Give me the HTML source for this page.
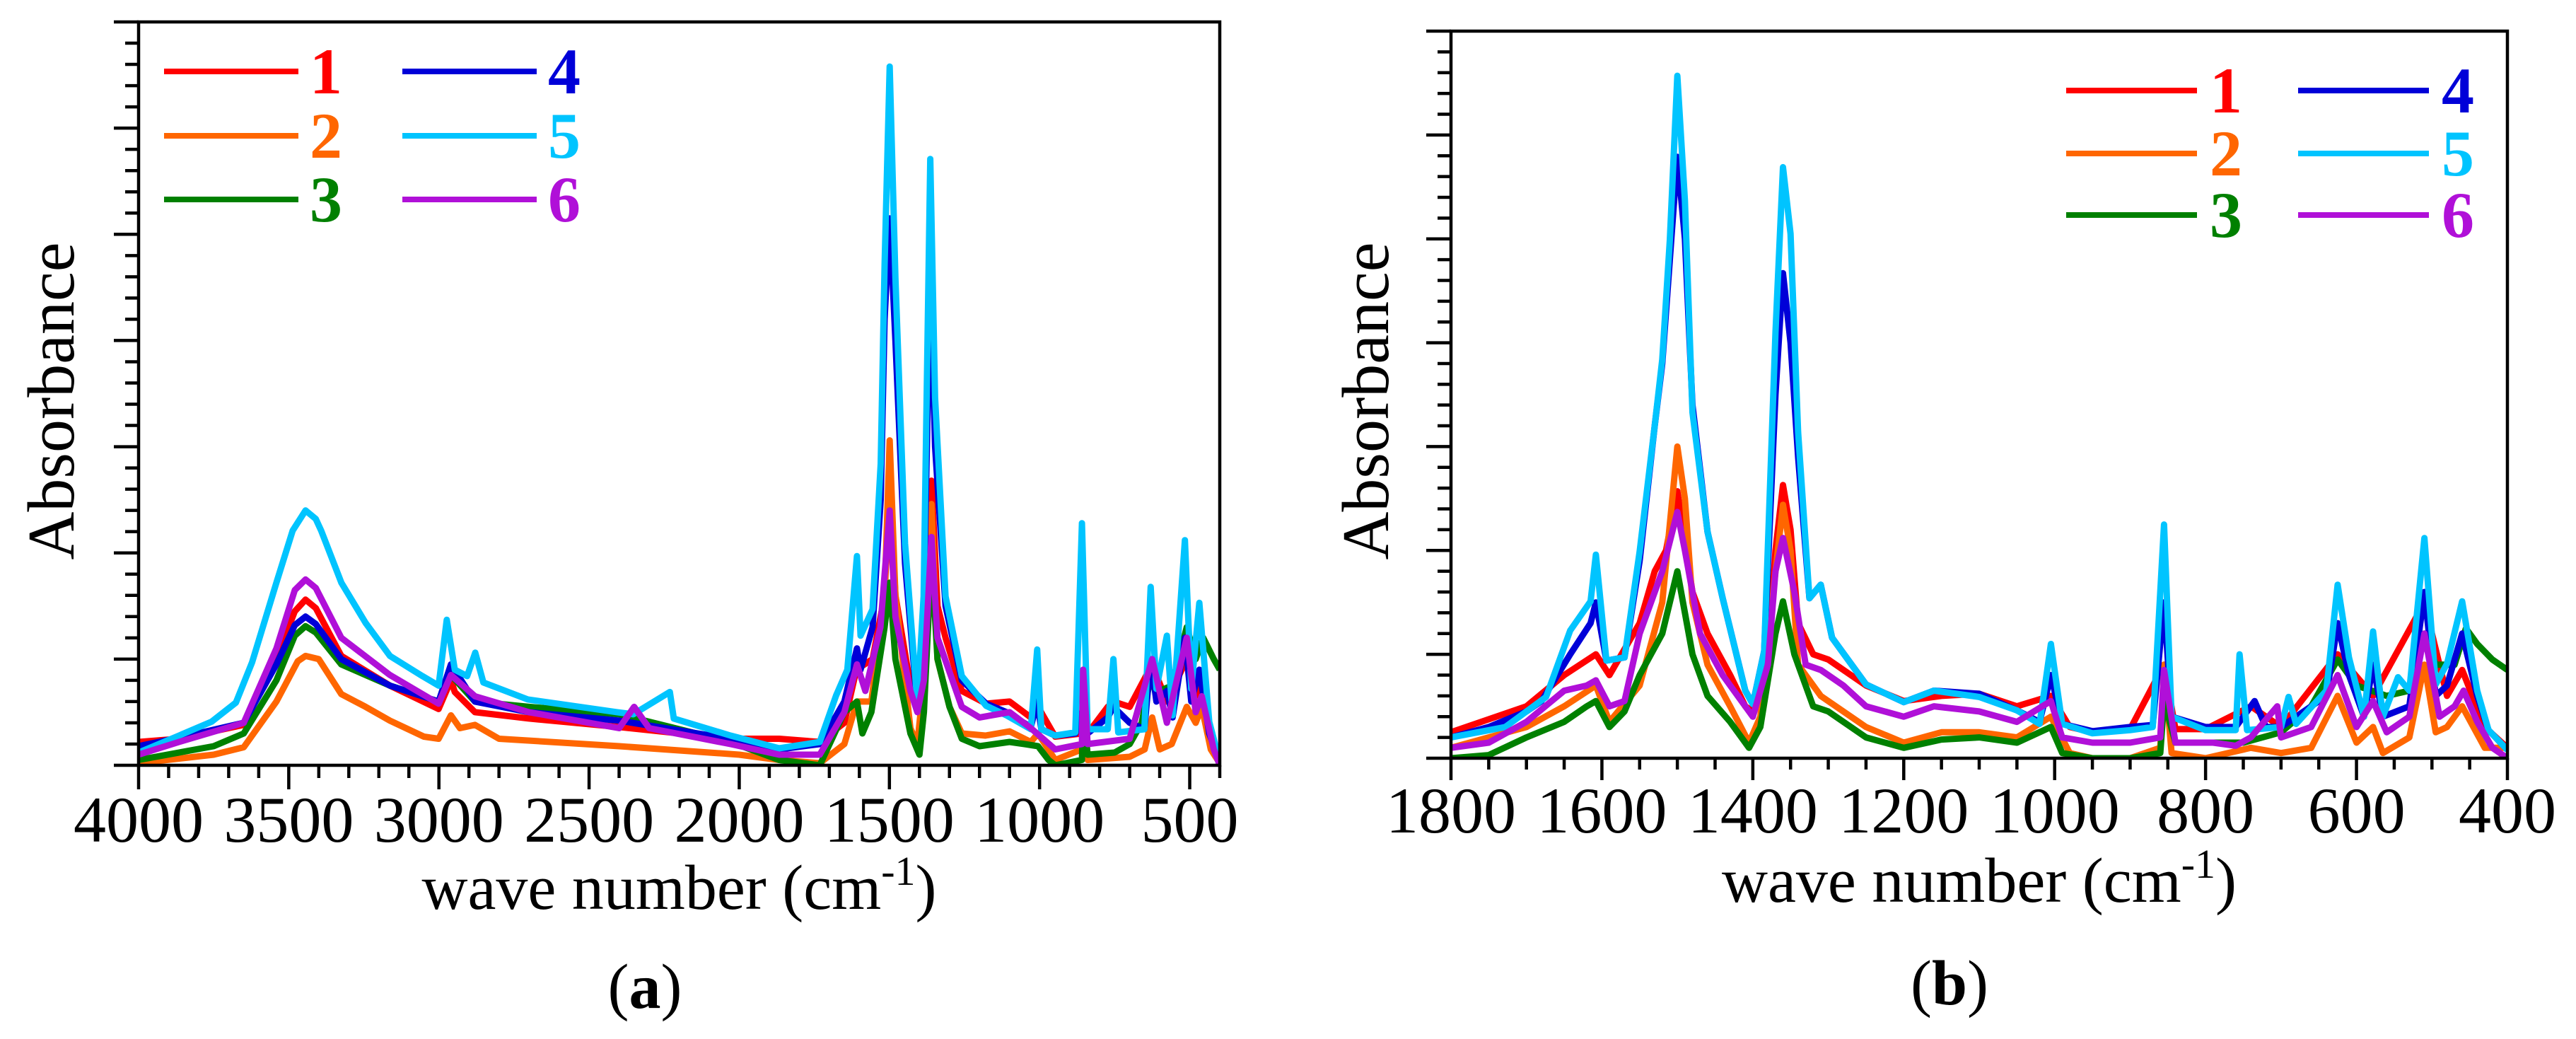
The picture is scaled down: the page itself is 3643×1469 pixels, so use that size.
<!DOCTYPE html>
<html><head><meta charset="utf-8"><style>
html,body{margin:0;padding:0;background:#fff;}
svg{display:block;}
text{font-family:"Liberation Serif",serif;}
</style></head><body>
<svg id="fig" width="3643" height="1469" viewBox="0 0 3643 1469" xmlns="http://www.w3.org/2000/svg">
<defs>
<clipPath id="clipA"><rect x="196" y="31" width="1529" height="1051"/></clipPath>
<clipPath id="clipB"><rect x="2052" y="44" width="1494" height="1028"/></clipPath>
</defs>
<g id="panelA"></g>
<g id="panelB"></g>
</svg>
<script>
const seriesColors = ["#ff0000","#ff6600","#008000","#0000d8","#00c4ff","#b010d8"];
const seriesLabels = ["1","2","3","4","5","6"];

const a1 = [[4000,.22],[3865,.25],[3650,.38],[3541,1.0],[3480,1.45],[3444,1.56],[3410,1.48],[3325,1.03],[3163,.75],[3001,.53],[2960,.8],[2947,.69],[2880,.5],[2700,.44],[2400,.36],[2029,.25],[1867,.25],[1732,.22],[1650,.4],[1610,.9],[1556,1.0],[1516,1.6],[1499,2.68],[1480,1.6],[1430,.75],[1407,.6],[1380,1.0],[1360,2.68],[1340,1.5],[1313,1.2],[1259,.7],[1178,.58],[1100,.6],[1029,.45],[1005,.55],[948,.27],[859,.3],[855,.9],[840,.3],[773,.55],[754,.6],[700,.55],[625,.95],[576,.6],[510,1.0],[460,.6],[420,.2],[400,.05]];
const a2 = [[4000,.02],[3750,.1],[3650,.17],[3541,.6],[3470,.98],[3444,1.03],[3400,1.0],[3325,.67],[3244,.55],[3163,.42],[3050,.27],[3001,.25],[2960,.47],[2930,.35],[2880,.38],[2800,.25],[2400,.18],[2000,.1],[1867,.05],[1732,.02],[1650,.2],[1608,.6],[1560,.6],[1516,1.6],[1499,3.06],[1480,1.6],[1430,.35],[1407,.2],[1385,.8],[1360,2.46],[1340,1.0],[1300,.55],[1259,.3],[1180,.28],[1100,.32],[1029,.22],[1005,.3],[948,.05],[859,.15],[855,.75],[840,.05],[700,.08],[650,.15],[625,.45],[600,.15],[560,.2],[510,.55],[480,.4],[460,.55],[430,.15],[400,.02]];
const a3 = [[4000,.05],[3750,.18],[3650,.3],[3541,.8],[3480,1.22],[3444,1.31],[3410,1.25],[3325,.95],[3163,.75],[3001,.6],[2960,.85],[2880,.6],[2700,.55],[2400,.48],[2029,.22],[1867,.05],[1732,0],[1650,.5],[1608,.6],[1590,.3],[1560,.5],[1516,1.3],[1499,1.72],[1480,1.0],[1430,.3],[1400,.1],[1385,.5],[1360,1.97],[1340,1.0],[1300,.55],[1259,.25],[1200,.18],[1100,.22],[1050,.2],[1005,.18],[970,.05],[948,0],[859,.05],[855,.55],[840,.1],[750,.12],[700,.2],[660,.4],[625,.9],[600,.7],[560,.75],[510,1.3],[480,1.0],[455,1.2],[420,1.0],[400,.9]];
const a4 = [[4000,.18],[3865,.26],[3650,.4],[3541,.95],[3480,1.32],[3444,1.40],[3410,1.33],[3325,1.0],[3163,.75],[3001,.6],[2960,.95],[2880,.6],[2700,.5],[2400,.42],[2029,.25],[1867,.15],[1732,.2],[1650,.6],[1608,1.1],[1596,.9],[1556,1.3],[1529,2.5],[1516,4.2],[1499,5.15],[1480,4.0],[1448,1.9],[1407,.56],[1386,1.4],[1364,4.7],[1348,3.0],[1313,1.5],[1259,.8],[1178,.58],[1110,.5],[1029,.36],[1008,.6],[994,.34],[948,.28],[881,.3],[859,.5],[840,.3],[773,.45],[754,.55],[700,.4],[651,.34],[630,1.0],[611,.6],[576,.7],[557,.45],[516,1.2],[495,.6],[468,.9],[435,.3],[400,.03]];
const a5 = [[4000,.12],[3865,.28],[3757,.41],[3676,.59],[3622,.97],[3541,1.72],[3487,2.21],[3444,2.40],[3410,2.32],[3392,2.21],[3325,1.72],[3244,1.34],[3163,1.03],[3055,.84],[3001,.75],[2974,1.37],[2947,.90],[2906,.84],[2879,1.06],[2852,.78],[2704,.62],[2407,.50],[2353,.48],[2231,.69],[2218,.44],[2029,.28],[1867,.16],[1732,.22],[1677,.66],[1640,.9],[1608,1.97],[1596,1.22],[1556,1.47],[1529,2.84],[1516,4.71],[1499,6.58],[1480,4.59],[1448,2.09],[1407,.59],[1386,1.59],[1364,5.71],[1348,3.46],[1313,1.59],[1259,.84],[1178,.56],[1110,.47],[1029,.34],[1008,1.09],[994,.34],[948,.28],[881,.31],[859,2.28],[840,.34],[773,.34],[754,1.0],[738,.31],[651,.34],[630,1.68],[611,.72],[576,1.22],[557,.47],[516,2.12],[495,.72],[468,1.53],[435,.41],[400,.03]];
const a6 = [[4000,.1],[3865,.22],[3650,.4],[3541,1.1],[3480,1.65],[3444,1.75],[3410,1.67],[3325,1.2],[3163,.85],[3001,.58],[2960,.85],[2880,.65],[2700,.5],[2400,.35],[2350,.55],[2300,.35],[2029,.2],[1867,.1],[1732,.1],[1650,.5],[1608,.95],[1580,.7],[1530,1.3],[1499,2.4],[1480,1.4],[1430,.7],[1407,.5],[1385,.8],[1360,2.15],[1340,1.2],[1259,.55],[1200,.45],[1100,.5],[1029,.35],[948,.15],[859,.2],[855,.9],[840,.2],[700,.25],[625,1.0],[576,.4],[510,1.2],[480,.5],[460,.65],[420,.15],[400,0]];

const b1 = [[1800,.25],[1700,.5],[1650,.8],[1608,1.0],[1590,.8],[1550,1.3],[1530,1.8],[1515,2.0],[1500,2.57],[1480,1.6],[1460,1.2],[1430,.8],[1410,.5],[1400,.45],[1380,.9],[1370,2.0],[1360,2.63],[1350,2.2],[1340,1.3],[1320,1.0],[1300,.95],[1250,.7],[1200,.55],[1150,.6],[1100,.62],[1050,.5],[1005,.6],[980,.3],[950,.25],[900,.28],[855,.9],[840,.28],[800,.28],[740,.5],[700,.3],[625,1.0],[578,.6],[510,1.5],[480,.6],[460,.85],[430,.3],[400,.1]];
const b2 = [[1800,.1],[1700,.3],[1650,.5],[1608,.7],[1590,.35],[1550,.7],[1520,1.5],[1500,3.0],[1490,2.5],[1480,1.5],[1460,.9],[1430,.5],[1405,.15],[1390,.4],[1370,1.8],[1360,2.44],[1350,2.0],[1340,.9],[1310,.6],[1250,.3],[1200,.15],[1150,.25],[1100,.25],[1050,.2],[1005,.4],[980,.05],[950,0],[900,0],[860,.1],[855,.9],[845,.05],[800,0],[740,.1],[700,.05],[660,.1],[625,.6],[600,.15],[578,.3],[565,.05],[530,.2],[510,.9],[495,.25],[480,.3],[460,.5],[430,.1],[400,.1]];
const b3 = [[1800,0],[1750,.03],[1700,.2],[1650,.35],[1620,.5],[1608,.55],[1590,.3],[1570,.45],[1550,.8],[1520,1.2],[1500,1.8],[1480,1.0],[1460,.6],[1430,.35],[1405,.1],[1390,.3],[1370,1.2],[1360,1.51],[1345,1.0],[1320,.5],[1300,.45],[1250,.2],[1200,.1],[1150,.18],[1100,.2],[1050,.15],[1005,.3],[990,.05],[950,0],[900,0],[860,.05],[855,.55],[840,.15],[800,.15],[750,.15],[700,.25],[660,.5],[625,.95],[600,.7],[560,.6],[530,.65],[510,1.2],[495,.9],[470,.9],[455,1.25],[440,1.1],[420,.95],[400,.85]];
const b4 = [[1800,.2],[1750,.3],[1700,.45],[1680,.55],[1642,1.0],[1615,1.3],[1608,1.5],[1594,.94],[1570,.97],[1550,1.9],[1530,3.2],[1520,3.8],[1510,4.8],[1500,5.79],[1490,5.0],[1480,3.4],[1460,2.18],[1440,1.54],[1410,.65],[1400,.52],[1385,1.03],[1370,3.5],[1360,4.67],[1350,4.0],[1340,2.9],[1325,1.54],[1310,1.67],[1295,1.16],[1250,.71],[1200,.54],[1160,.65],[1100,.62],[1050,.46],[1020,.35],[1005,.8],[990,.33],[950,.26],[900,.3],[870,.32],[855,1.5],[845,.4],[800,.3],[760,.3],[735,.55],[720,.3],[700,.3],[640,.6],[625,1.3],[610,.8],[590,.4],[578,.9],[565,.4],[530,.5],[510,1.6],[495,.6],[480,.7],[460,1.2],[440,.6],[425,.27],[400,.08]];
const b5 = [[1800,.2],[1728,.3],[1674,.59],[1642,1.23],[1615,1.51],[1608,1.96],[1594,.94],[1570,.97],[1550,1.99],[1530,3.2],[1520,3.84],[1510,4.99],[1500,6.57],[1490,5.37],[1480,3.33],[1460,2.18],[1440,1.54],[1410,.65],[1400,.52],[1385,1.03],[1370,4.1],[1360,5.69],[1350,5.05],[1340,3.14],[1325,1.54],[1310,1.67],[1295,1.16],[1250,.71],[1200,.54],[1160,.65],[1100,.59],[1050,.46],[1020,.33],[1005,1.1],[990,.33],[950,.24],[900,.27],[870,.3],[855,2.25],[845,.4],[800,.27],[760,.27],[755,1.0],[745,.27],[700,.3],[690,.59],[680,.33],[640,.65],[625,1.67],[610,.97],[590,.4],[578,1.22],[565,.4],[545,.78],[530,.65],[510,2.12],[495,.71],[480,.91],[460,1.51],[440,.65],[425,.27],[400,.08]];
const b6 = [[1800,.1],[1750,.15],[1700,.35],[1650,.65],[1620,.7],[1608,.75],[1590,.5],[1570,.55],[1550,1.2],[1520,1.8],[1500,2.37],[1490,2.0],[1470,1.2],[1440,.8],[1410,.5],[1400,.4],[1380,.9],[1370,1.8],[1360,2.12],[1345,1.6],[1330,.9],[1310,.85],[1280,.7],[1250,.5],[1200,.4],[1160,.5],[1100,.45],[1050,.35],[1005,.55],[990,.2],[950,.15],[900,.15],[860,.2],[855,.85],[840,.15],[790,.15],[760,.12],[740,.2],[705,.5],[700,.2],[660,.3],[625,.8],[600,.3],[578,.55],[560,.25],[530,.4],[510,1.2],[490,.4],[470,.5],[458,.65],[440,.35],[420,.1],[400,0]];

const ticksA = ["4000","3500","3000","2500","2000","1500","1000","500"];
const ticksB = ["1800","1600","1400","1200","1000","800","600","400"];

const NS = "http://www.w3.org/2000/svg";
function mk(parent, tag, attrs){ const e=document.createElementNS(NS,tag); for(const k in attrs) e.setAttribute(k,attrs[k]); parent.appendChild(e); return e; }

function drawPanel(g, cfg){
  const xs = wn => cfg.x0 + (cfg.wnMax - wn)/(cfg.wnMax - cfg.wnMin)*(cfg.x1 - cfg.x0);
  const ys = v => cfg.y1 - v/cfg.yMax*(cfg.y1 - cfg.y0);
  const sg = mk(g,"g",{"clip-path":"url(#"+cfg.clip+")"});
  
  
  cfg.series.forEach((s,i)=>{
    const p = mk(sg,"polyline",{points:s.map(d=>xs(d[0]).toFixed(1)+","+ys(d[1]).toFixed(1)).join(" "),fill:"none",stroke:seriesColors[i],"stroke-width":9,"stroke-linejoin":"round"});
    
    
  });
  const fr = mk(g,"rect",{x:cfg.x0,y:cfg.y0,width:cfg.x1-cfg.x0,height:cfg.y1-cfg.y0,fill:"none",stroke:"#000","stroke-width":4.5});
  
  
  for(let k=0;k<=35;k++){
    const v=k/5, y=ys(v), major=(k%5===0);
    const t=mk(g,"line",{x1:cfg.x0-(major?35:19),x2:cfg.x0,y1:y,y2:y,stroke:"#000","stroke-width":4.5});
    
    
  }
  for(let w=cfg.wnMax; w>=cfg.wnMin-0.1; w-=cfg.minor){
    const major = Math.abs(((cfg.wnMax-w)/cfg.major) - Math.round((cfg.wnMax-w)/cfg.major))<1e-6;
    const x=xs(w);
    const t=mk(g,"line",{x1:x,x2:x,y1:cfg.y1,y2:cfg.y1+(major?cfg.majLen:cfg.minLen),stroke:"#000","stroke-width":4.5});
    
    
  }
  cfg.ticks.forEach(lbl=>{
    const t=mk(g,"text",{x:xs(+lbl),y:cfg.tickBase,"font-size":92,"text-anchor":"middle",fill:"#000"});
    t.textContent=lbl;
    
    
  });
  const yt=mk(g,"text",{x:0,y:0,"font-size":94,"text-anchor":"middle",transform:"translate("+cfg.yTitleX+",567) rotate(-90)"});
  yt.textContent="Absorbance";
  
  
  const xt=mk(g,"text",{x:(cfg.x0+cfg.x1)/2,y:cfg.xTitleBase,"font-size":90,"text-anchor":"middle"});
  
  
  xt.appendChild(document.createTextNode("wave number (cm"));
  const sup=mk(xt,"tspan",{"font-size":58,dy:-34}); sup.textContent="-1";
  const cl=mk(xt,"tspan",{dy:34}); cl.textContent=")";
  const cap=mk(g,"text",{x:cfg.capX,y:cfg.capBase,"font-size":90,"text-anchor":"middle"});
  
  
  cap.appendChild(document.createTextNode("("));
  const bl=mk(cap,"tspan",{"font-weight":"bold"}); bl.textContent=cfg.cap;
  cap.appendChild(document.createTextNode(")"));
  const lg=mk(g,"g",{});
  
  
  seriesLabels.forEach((lab,i)=>{
    const col=Math.floor(i/3), row=i%3;
    const lx=cfg.leg.cx[col], ly=cfg.leg.ry[row];
    const e=mk(lg,"g",{});
    
    
    mk(e,"line",{x1:lx,x2:lx+cfg.leg.len,y1:ly,y2:ly,stroke:seriesColors[i],"stroke-width":8});
    const t=mk(e,"text",{x:lx+cfg.leg.len+cfg.leg.gap,y:ly+31,"font-size":92,"font-weight":"bold",fill:seriesColors[i]});
    t.textContent=lab;
  });
}

drawPanel(document.getElementById("panelA"),{
  x0:196,x1:1725,y0:31,y1:1082,wnMax:4000,wnMin:400,yMax:7,major:500,minor:100,majLen:34,minLen:18,
  ticks:ticksA,tickBase:1190,yTitleX:104,xTitleBase:1285,capX:912,capBase:1425,cap:"a",clip:"clipA",
  series:[a1,a2,a3,a4,a5,a6],
  leg:{cx:[232,569],ry:[101,192,282],len:190,gap:16}
});
drawPanel(document.getElementById("panelB"),{
  x0:2052,x1:3546,y0:44,y1:1072,wnMax:1800,wnMin:400,yMax:7,major:200,minor:50,majLen:31,minLen:16,
  ticks:ticksB,tickBase:1177,yTitleX:1963,xTitleBase:1275,capX:2757,capBase:1420,cap:"b",clip:"clipB",
  series:[b1,b2,b3,b4,b5,b6],
  leg:{cx:[2922,3250],ry:[128,217,304],len:185,gap:18}
});
</script>
</body></html>
